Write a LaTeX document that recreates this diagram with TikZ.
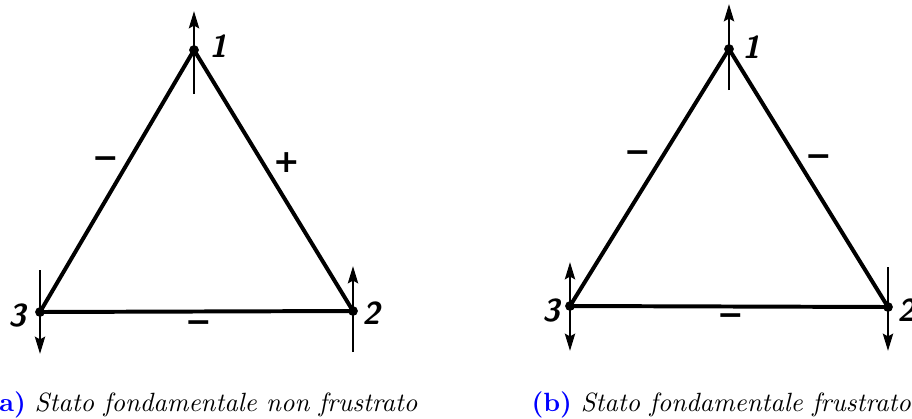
\documentclass[tikz,border=0pt]{standalone}
\usepackage{fontspec}
\usetikzlibrary{arrows.meta,calc,positioning}
\newfontfamily\signfont{DejaVu Sans}
\definecolor{captionBlue}{RGB}{0,0,255}

\begin{document}
\begin{tikzpicture}[
  x=0.0133cm, y=-0.0133cm,
  spinDot/.style={circle, fill=black, inner sep=0pt, minimum size=1.3mm},
  bond/.style={line width=1.5pt, line join=round},
  spinArrow/.style={-{Stealth[length=6.5pt, width=3.8pt, inset=1pt]}, line width=1.1pt},
  spinBoth/.style={{Stealth[length=6.5pt, width=3.8pt, inset=1pt]}-{Stealth[length=6.5pt, width=3.8pt, inset=1pt]}, line width=1.1pt},
  siteLabel/.style={font=\large\sffamily\bfseries\itshape, inner sep=0pt},
  signLabel/.style={font=\large\signfont\bfseries, inner sep=0pt},
  subCaption/.style={anchor=base west, inner sep=0pt, font=\normalsize}
]
\useasboundingbox (0,0) rectangle (912,419);

% (a) non frustrated
\node[spinDot] (a1) at (194,50) {};
\node[spinDot] (a2) at (353,311) {};
\node[spinDot] (a3) at (40,312) {};
\draw[bond] (a1.center) -- (a2.center) -- (a3.center) -- cycle;

\coordinate (a1tail) at (194,94);
\coordinate (a1head) at (194,11);
\coordinate (a2tail) at (353,352);
\coordinate (a2head) at (353,266);
\coordinate (a3tail) at (40,270);
\coordinate (a3head) at (40,354);
\draw[spinArrow] (a1tail) -- (a1head);
\draw[spinArrow] (a2tail) -- (a2head);
\draw[spinArrow] (a3tail) -- (a3head);

\node[siteLabel] (a1lab) at (218,46) {1};
\node[siteLabel] (a2lab) at (371,313) {2};
\node[siteLabel] (a3lab) at (17,315) {3};

\node[signLabel] (a13sign) at (106,163) {−};
\node[signLabel] (a12sign) at (287,163) {+};
\node[signLabel] (a23sign) at (199,327) {−};

\node[subCaption] (capA) at (-13,411) {\textcolor{captionBlue}{\textbf{(a)}} \textit{Stato fondamentale non frustrato}};

% (b) frustrated
\node[spinDot] (b1) at (729,49) {};
\node[spinDot] (b2) at (888,307) {};
\node[spinDot] (b3) at (570,306) {};
\draw[bond] (b1.center) -- (b2.center) -- (b3.center) -- cycle;

\coordinate (b1tail) at (729,90);
\coordinate (b1head) at (729,4);
\coordinate (b2tail) at (888,267);
\coordinate (b2head) at (888,351);
\coordinate (b3top) at (570,262);
\coordinate (b3bottom) at (570,351);
\draw[spinArrow] (b1tail) -- (b1head);
\draw[spinArrow] (b2tail) -- (b2head);
\draw[spinBoth] (b3top) -- (b3bottom);

\node[siteLabel] (b1lab) at (751,47) {1};
\node[siteLabel] (b2lab) at (906,310) {2};
\node[siteLabel] (b3lab) at (551,310) {3};

\node[signLabel] (b13sign) at (638,157) {−};
\node[signLabel] (b12sign) at (819,161) {−};
\node[signLabel] (b23sign) at (731,320) {−};

\node[subCaption] (capB) at (531,411) {\textcolor{captionBlue}{\textbf{(b)}} \textit{Stato fondamentale frustrato}};
\end{tikzpicture}
\end{document}
